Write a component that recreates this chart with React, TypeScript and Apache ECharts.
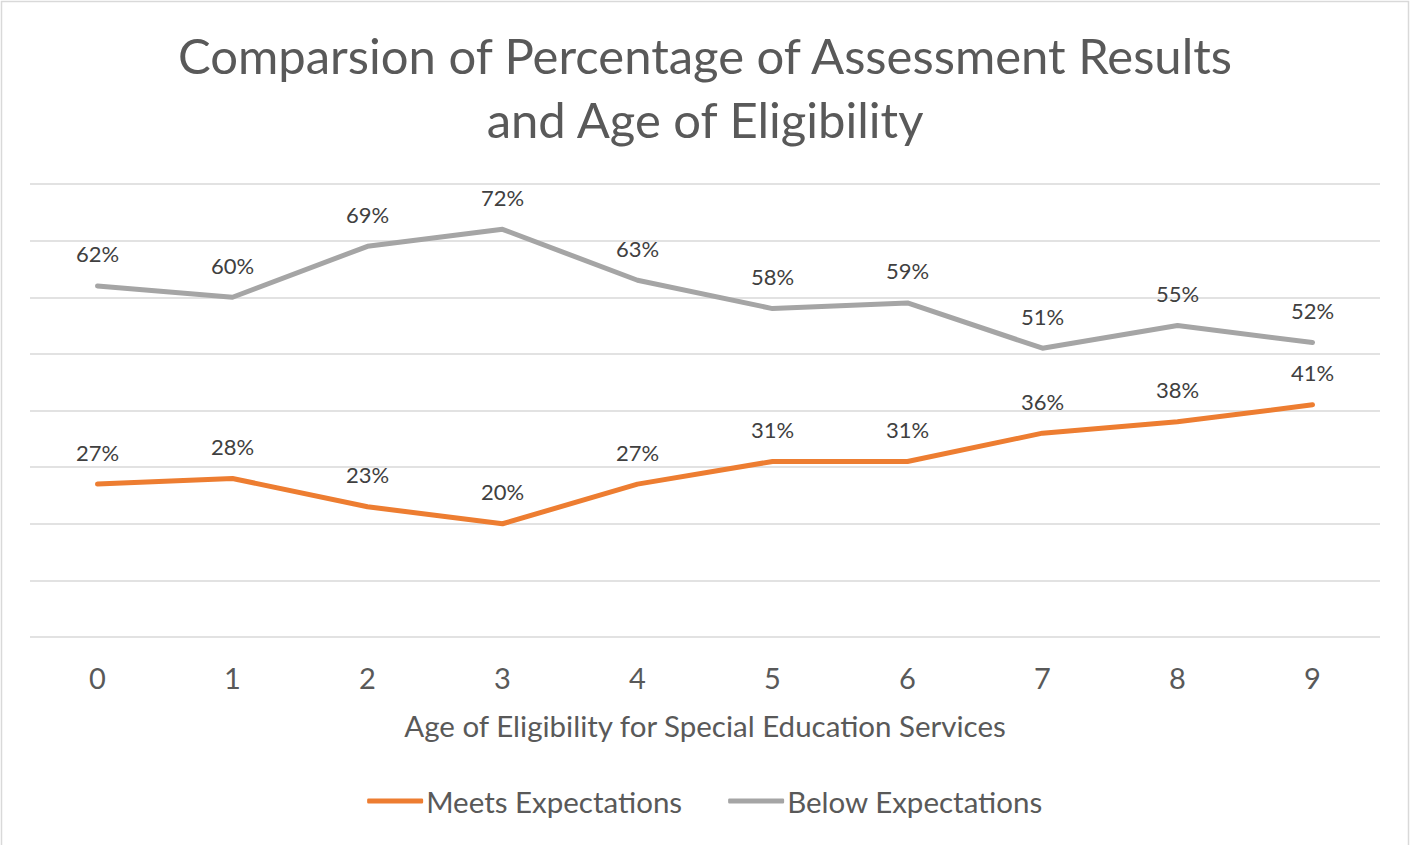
import React, { useEffect, useRef } from "react";
import * as echarts from "echarts";

const categories = ["0", "1", "2", "3", "4", "5", "6", "7", "8", "9"];
const meetsExpectations = [0.27, 0.28, 0.23, 0.20, 0.27, 0.31, 0.31, 0.36, 0.38, 0.41];
const belowExpectations = [0.62, 0.60, 0.69, 0.72, 0.63, 0.58, 0.59, 0.51, 0.55, 0.52];

const FONT = "Lato, 'Open Sans', sans-serif";
const TEXT = "#595959";

export default function App() {
  const ref = useRef<HTMLDivElement>(null);
  useEffect(() => {
    if (!ref.current) return;
    const chart = echarts.init(ref.current, null, { renderer: "svg" });
    const label = {
      show: true,
      position: "top",
      distance: 21,
      fontSize: 22,
      fontFamily: FONT,
      color: "#404040",
      opacity: 1,
      formatter: (p: any) => Math.round(p.value * 100) + "%",
    };
    chart.setOption({
      animation: false,
      backgroundColor: "#ffffff",
      textStyle: { fontFamily: FONT },
      title: {
        text: "Comparsion of Percentage of Assessment Results\nand Age of Eligibility",
        left: "center",
        top: 18,
        textStyle: { fontSize: 49, fontWeight: "normal", color: TEXT, fontFamily: FONT, lineHeight: 64 },
      },
      graphic: [
        {
          type: "rect",
          shape: { x: 1.5, y: 1.5, width: 1407, height: 850 },
          style: { fill: "none", stroke: "#d9d9d9", lineWidth: 1.5 },
          silent: true,
        },
      ],
      legend: {
        bottom: 24,
        left: "center",
        itemWidth: 56,
        itemHeight: 5,
        itemGap: 46,
        icon: "roundRect",
        textStyle: { fontSize: 29.5, color: TEXT, fontFamily: FONT, padding: [0, 0, 0, -2] },
        data: ["Meets Expectations", "Below Expectations"],
      },
      grid: { left: 30, right: 30, top: 184, bottom: 208 },
      xAxis: {
        type: "category",
        data: categories,
        boundaryGap: true,
        axisLine: { show: false },
        axisTick: { show: false },
        axisLabel: { fontSize: 29, color: TEXT, fontFamily: FONT, margin: 26 },
        name: "Age of Eligibility for Special Education Services",
        nameLocation: "middle",
        nameGap: 73,
        nameTextStyle: { fontSize: 29.5, color: TEXT, fontFamily: FONT },
      },
      yAxis: {
        type: "value",
        min: 0,
        max: 0.8,
        interval: 0.1,
        axisLabel: { show: false },
        axisLine: { show: false },
        axisTick: { show: false },
        splitLine: { lineStyle: { color: "#d9d9d9", width: 1.5 } },
      },
      series: [
        {
          name: "Meets Expectations",
          type: "line",
          data: meetsExpectations,
          symbol: "circle",
          symbolSize: 0.01,
          showSymbol: true,
          lineStyle: { color: "#ed7d31", width: 5, cap: "round", join: "round" },
          itemStyle: { color: "#ed7d31" },
          label,
        },
        {
          name: "Below Expectations",
          type: "line",
          data: belowExpectations,
          symbol: "circle",
          symbolSize: 0.01,
          showSymbol: true,
          lineStyle: { color: "#a5a5a5", width: 5, cap: "round", join: "round" },
          itemStyle: { color: "#a5a5a5" },
          label,
        },
      ],
    });
    return () => chart.dispose();
  }, []);
  return (
    <div
      ref={ref}
      style={{ position: "fixed", left: 0, top: 0, width: 1410, height: 845 }}
    />
  );
}
